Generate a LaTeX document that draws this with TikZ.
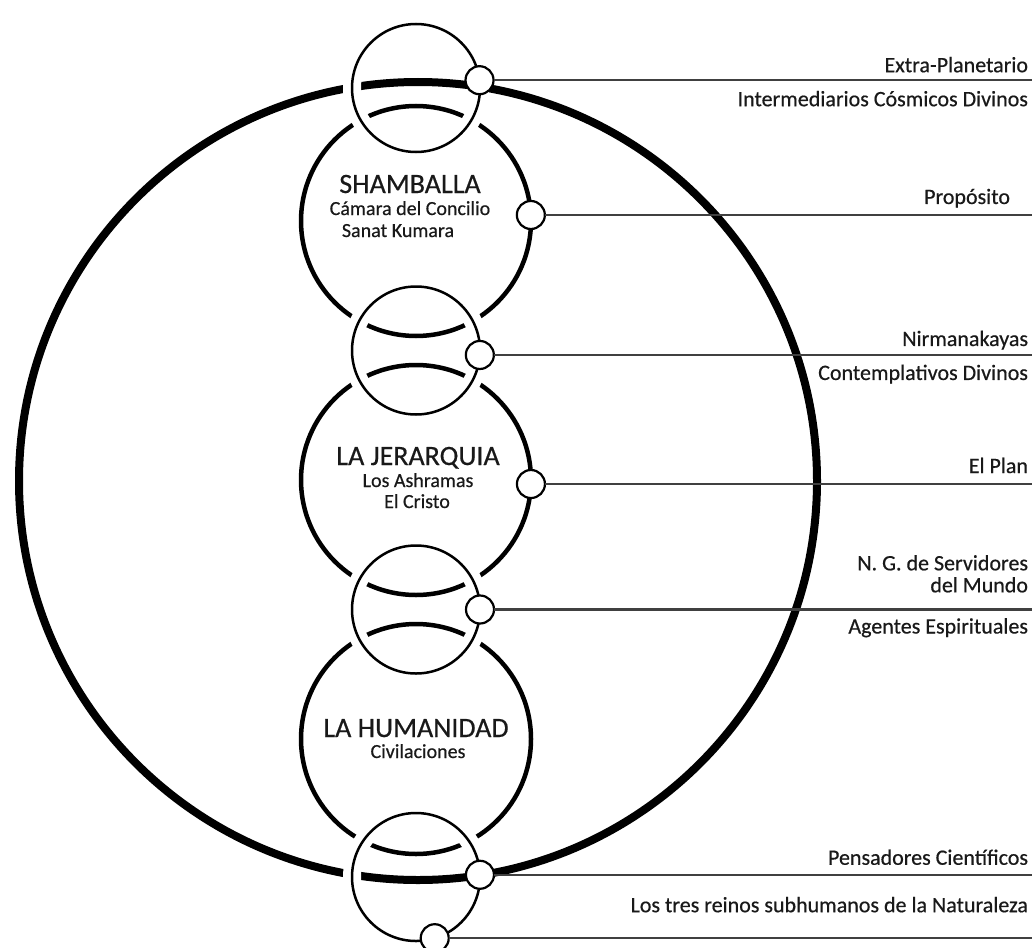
\documentclass[tikz,border=0pt]{standalone}
\usepackage{fontspec}
\setmainfont{Carlito}[FakeBold=0.5]
\usetikzlibrary{positioning}

\begin{document}
\begin{tikzpicture}[x=1pt,y=-1pt,node distance=259pt,on grid,
    every node/.style={inner sep=0pt,outer sep=0pt}]
  \tikzstyle{orbe}=[circle,draw=black,line width=8pt,minimum size=798pt]
  \tikzstyle{reino}=[circle,draw=black,line width=4.5pt,minimum size=230pt]
  \tikzstyle{puente}=[circle,draw=black,line width=2.5pt,minimum size=128pt,
    preaction={draw=white,line width=18pt}]
  \tikzstyle{enlace}=[circle,draw=black,fill=white,line width=2.2pt,minimum size=28pt]
  \tikzstyle{hilo}=[draw=black!75,line width=2.4pt]
  \tikzstyle{titulo}=[font=\fontsize{28}{30}\selectfont,anchor=base,text=black!90]
  \tikzstyle{sub}=[font=\fontsize{20}{22}\selectfont,anchor=base,text=black!90]
  \tikzstyle{lab}=[font=\fontsize{22}{22}\selectfont,anchor=base east,text=black!90]

  \useasboundingbox (0,0) rectangle (1032,947);
  \coordinate (rim) at (1032,0);

  % the planet and its three centres
  \node[orbe]  (planeta)   at (418,481) {};
  \node[reino] (shamballa) at (416,221) {};
  \node[reino] (jerarquia) [below=of shamballa] {};
  \node[reino] (humanidad) [below=of jerarquia] {};

  % the linking spheres
  \node[puente] (p_0) at (416,88) {};
  \node[puente] (p_1) [below=129.5pt of shamballa] {};
  \node[puente] (p_2) [below=129.5pt of jerarquia] {};
  \node[puente] (p_3) at (416,877) {};

  % small rings where the lines leave
  \node[enlace] (k_0) at (p_0.7) {};
  \node[enlace] (k_1) at (shamballa.3) {};
  \node[enlace] (k_2) at (p_1.-4) {};
  \node[enlace] (k_3) at (jerarquia.-2) {};
  \node[enlace] (k_4) at (p_2.0) {};
  \node[enlace] (k_5) at (p_3.2) {};
  \node[enlace] (k_6) at (p_3.-73) {};

  \foreach \i in {0,...,6}
    \coordinate (e_\i) at (k_\i -| rim);
  \foreach \i in {0,...,6}
    \draw[hilo] (k_\i) -- (e_\i);

  % texts inside
  \node[titulo] (n_s0) at (410,193) {SHAMBALLA};
  \node[sub]    (n_s1) at (410,215) {Cámara del Concilio};
  \node[sub]    (n_s2) at (398,237) {Sanat Kumara};
  \node[titulo] (n_j0) at (418,465) {LA JERARQUIA};
  \node[sub]    (n_j1) at (418,487) {Los Ashramas};
  \node[sub]    (n_j2) at (417,508) {El Cristo};
  \node[titulo] (n_h0) at (416,737) {LA HUMANIDAD};
  \node[sub]    (n_h1) at (418,758) {Civilaciones};

  % texts on the right
  \node[lab] (t_0a) at ([xshift=-4pt,yshift=8pt]e_0)   {Extra-Planetario};
  \node[lab] (t_0b) at ([xshift=-4pt,yshift=-26pt]e_0) {Intermediarios Cósmicos Divinos};
  \node[lab] (t_1)  at ([xshift=-22pt,yshift=11pt]e_1) {Propósito};
  \node[lab] (t_2a) at ([xshift=-4pt,yshift=9pt]e_2)   {Nirmanakayas};
  \node[lab] (t_2b) at ([xshift=-4pt,yshift=-25pt]e_2) {Contemplativos Divinos};
  \node[lab] (t_3)  at ([xshift=-4pt,yshift=11pt]e_3)  {El Plan};
  \node[lab,align=right,anchor=south east] (t_4a) at ([xshift=-4pt,yshift=17pt]e_4)
    {N. G. de Servidores\\del Mundo};
  \node[lab] (t_4c) at ([xshift=-4pt,yshift=-24pt]e_4) {Agentes Espirituales};
  \node[lab] (t_5)  at ([xshift=-4pt,yshift=10pt]e_5)  {Pensadores Científicos};
  \node[lab] (t_6)  at ([xshift=-4pt,yshift=26pt]e_6)  {Los tres reinos subhumanos de la Naturaleza};
\end{tikzpicture}
\end{document}
